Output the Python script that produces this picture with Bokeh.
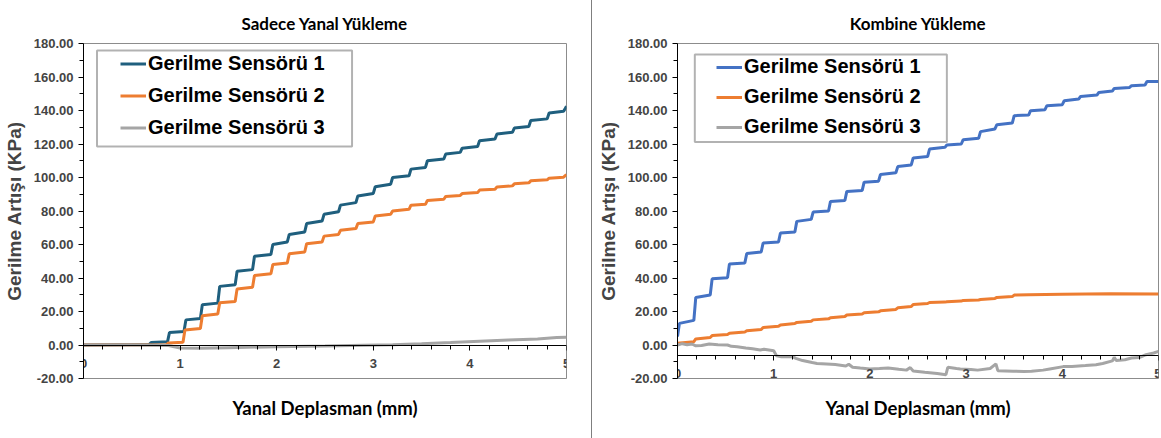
from bokeh.plotting import figure
from bokeh.models import (Legend, LegendItem, NumeralTickFormatter, FixedTicker,
                          Title, BoxAnnotation)
from bokeh.layouts import row
from bokeh.embed import file_html
from bokeh.resources import INLINE

# ---------------- data ----------------
SERIES_NAMES = ["Gerilme Sensörü 1", "Gerilme Sensörü 2", "Gerilme Sensörü 3"]
X_TICKS = [0, 1, 2, 3, 4, 5]
X_MINOR = [0.2, 0.4, 0.6, 0.8, 1.2, 1.4, 1.6, 1.8, 2.2, 2.4, 2.6, 2.8,
           3.2, 3.4, 3.6, 3.8, 4.2, 4.4, 4.6, 4.8]
Y_TICKS = [-20, 0, 20, 40, 60, 80, 100, 120, 140, 160, 180]
Y_MINOR = [-10, 10, 30, 50, 70, 90, 110, 130, 150, 170]

# Sadece Yanal Yükleme
L1_x = [0, 0.68, 0.70, 0.87, 0.89, 1.04, 1.06, 1.21, 1.23, 1.39, 1.41, 1.57, 1.59,
        1.75, 1.77, 1.94, 1.96, 2.11, 2.13, 2.29, 2.31, 2.47, 2.49, 2.64, 2.66,
        2.82, 2.84, 3.00, 3.02, 3.18, 3.20, 3.37, 3.39, 3.54, 3.56, 3.73, 3.75,
        3.90, 3.92, 4.08, 4.10, 4.26, 4.28, 4.44, 4.46, 4.61, 4.63, 4.80, 4.82,
        4.97, 4.99, 5.0]
L1_y = [0, 0.3, 1.5, 2.0, 7.5, 8.0, 15, 15.8, 24, 25, 35, 36, 44,
        45, 53, 54, 60, 61.5, 66, 67.5, 72.5, 74, 78, 79.5, 83.5,
        85, 89, 90.5, 94.5, 96, 100, 101, 105, 106, 110, 111, 114,
        115, 117.5, 118.5, 122, 123, 126, 127, 129.5, 130.5, 134, 135, 138.5,
        139.5, 141.5, 142.5]
L2_x = [0, 0.86, 0.88, 1.03, 1.05, 1.21, 1.23, 1.39, 1.41, 1.57, 1.59, 1.75, 1.77,
        1.94, 1.96, 2.11, 2.13, 2.29, 2.31, 2.47, 2.49, 2.64, 2.66, 2.82, 2.84,
        3.00, 3.02, 3.18, 3.20, 3.37, 3.39, 3.54, 3.56, 3.73, 3.75, 3.90, 3.92,
        4.08, 4.10, 4.26, 4.28, 4.44, 4.46, 4.61, 4.63, 4.80, 4.82, 4.97, 4.99, 5.0]
L2_y = [0, 0.2, 1.2, 1.6, 9, 9.8, 17.5, 18.5, 25.2, 26, 33.5, 34.5, 41.5,
        42.5, 48, 49, 54.5, 55.5, 60.5, 61.5, 65, 66, 68.5, 69.5, 72.5,
        73.5, 77, 78, 80, 81, 83.5, 84, 86.3, 87, 88.7, 89.3, 90.4,
        91, 92.5, 93, 94.3, 95, 96.2, 96.8, 98, 98.6, 99.6, 100.2, 101.2, 101.8]
L3_x = [0, 0.5, 0.88, 1.0, 1.2, 1.5, 2.0, 2.5, 2.9, 3.2, 3.5, 3.8, 4.1, 4.4, 4.7, 4.9, 5.0]
L3_y = [0, 0, -0.3, -1.8, -2.0, -1.6, -1.0, -0.6, -0.1, 0.2, 0.8, 1.5, 2.3, 3.0, 3.6, 4.5, 4.6]

# Kombine Yükleme
R1_x = [0, 0.02, 0.17, 0.19, 0.34, 0.36, 0.52, 0.54, 0.70, 0.72, 0.87, 0.89, 1.05,
        1.07, 1.22, 1.24, 1.39, 1.41, 1.57, 1.59, 1.74, 1.76, 1.92, 1.94, 2.09,
        2.11, 2.27, 2.29, 2.43, 2.45, 2.60, 2.62, 2.78, 2.80, 2.95, 2.97, 3.13,
        3.15, 3.30, 3.32, 3.48, 3.50, 3.65, 3.67, 3.82, 3.84, 4.00, 4.02, 4.17,
        4.19, 4.36, 4.38, 4.52, 4.54, 4.70, 4.72, 4.86, 4.88, 5.0]
R1_y = [5, 12.9, 14.7, 28.4, 29.8, 39.5, 40.2, 48.4, 49, 54.6, 55.5, 60.9, 61.5,
        66.9, 67.5, 73.8, 75, 79.4, 80, 85.7, 86.3, 91.7, 92.3, 97.2, 97.8,
        101.8, 102.8, 106.5, 107.5, 111.7, 112.5, 117, 118, 119.4, 120, 122.6, 123.4,
        127.4, 129, 131.5, 132.5, 136.9, 137.3, 139.9, 140.5, 142.9, 143.5, 145.8, 146.8,
        148.4, 149.2, 150.8, 151.6, 153.2, 153.8, 154.8, 155.2, 157.3, 157.3]
R2_x = [0, 0.17, 0.19, 0.34, 0.36, 0.52, 0.54, 0.70, 0.72, 0.87, 0.89, 1.05, 1.07,
        1.22, 1.24, 1.39, 1.41, 1.57, 1.59, 1.74, 1.76, 1.92, 1.94, 2.09, 2.11,
        2.27, 2.29, 2.43, 2.45, 2.60, 2.62, 2.78, 2.80, 2.95, 2.97, 3.13, 3.15,
        3.30, 3.32, 3.48, 3.50, 3.65, 4.0, 4.5, 5.0]
R2_y = [1.0, 2.0, 3.6, 4.5, 5.6, 6.3, 7.0, 7.8, 8.5, 9.3, 10.5, 11.2, 12.0,
        12.8, 13.5, 14.2, 15.0, 15.6, 16.3, 17.0, 17.9, 18.5, 19.2, 19.8, 20.4,
        21.2, 22.2, 23.0, 24.2, 24.8, 25.4, 25.6, 25.8, 26.2, 26.6, 26.9, 27.2,
        27.8, 28.4, 28.9, 29.8, 30.0, 30.3, 30.6, 30.5]
R3_x = [0, 0.05, 0.1, 0.15, 0.19, 0.25, 0.33, 0.42, 0.52, 0.56, 0.62, 0.71, 0.78,
        0.86, 0.9, 1.0, 1.03, 1.08, 1.2, 1.23, 1.3, 1.4, 1.45, 1.55, 1.64, 1.75,
        1.78, 1.82, 1.9, 2.0, 2.1, 2.19, 2.3, 2.38, 2.42, 2.45, 2.57, 2.7, 2.79,
        2.81, 2.9, 2.94, 3.05, 3.12, 3.25, 3.31, 3.33, 3.49, 3.6, 3.68, 3.8, 3.87,
        4.01, 4.1, 4.24, 4.35, 4.42, 4.52, 4.54, 4.56, 4.65, 4.72, 4.8, 4.87, 4.95, 5.0]
R3_y = [0, 0.8, 0.2, 0.6, -0.5, -0.3, 0.6, 0.2, 0, -0.8, -1, -1.8, -2.3,
        -3, -2.5, -3.4, -6.5, -7, -7, -8, -9.3, -10.5, -11, -11.3, -11.7, -12.5,
        -11.5, -13.3, -13.8, -14.3, -14, -13.7, -14.5, -15, -13.5, -15.5, -16.3, -17, -17.7,
        -13.3, -14, -14.3, -14.6, -15, -14, -11.3, -15.3, -15.7, -15.8, -15.7, -15, -14.3,
        -12.9, -12.8, -12.3, -11.8, -11, -9.5, -7.4, -9.3, -8.8, -7.8, -7.5, -5.8, -4.8, -3.8]

LEFT_COLORS = ["#1f5f7e", "#ed7d31", "#a5a5a5"]
RIGHT_COLORS = ["#4472c4", "#ed7d31", "#a5a5a5"]

BOLD_SANS = "Liberation Sans"
TITLE_FONT = "Lato"


def panel(title, series, colors, width, border_left, border_right, axis_at,
          box, legend_loc, legend_spacing, legend_h, text_offset):
    p = figure(width=width, height=438, x_range=(0, 5), y_range=(-20, 180),
               output_backend="svg", toolbar_location=None,
               min_border_left=border_left, min_border_right=border_right,
               min_border_top=41, min_border_bottom=60)
    p.grid.visible = False
    p.outline_line_color = "#8c8c8c"
    p.outline_line_width = 1

    p.title.text = title
    p.title.align = "center"
    p.title.offset = text_offset
    p.title.text_font = TITLE_FONT
    p.title.text_font_style = "bold"
    p.title.text_font_size = "17px"
    p.title.text_color = "#000000"
    p.title.standoff = 20

    xa = p.xaxis[0]
    xa.ticker = FixedTicker(ticks=X_TICKS, minor_ticks=X_MINOR)
    xa.fixed_location = axis_at
    xa.axis_line_color = "#000000"
    xa.major_tick_out = 5
    xa.major_tick_in = 0
    xa.minor_tick_out = 4
    xa.minor_tick_in = 0
    xa.major_label_text_font = BOLD_SANS
    xa.major_label_text_font_style = "bold"
    xa.major_label_text_font_size = "13px"
    xa.major_label_standoff = 9

    ya = p.yaxis[0]
    ya.ticker = FixedTicker(ticks=Y_TICKS, minor_ticks=Y_MINOR)
    ya.formatter = NumeralTickFormatter(format="0.00")
    ya.axis_line_color = "#000000"
    ya.major_tick_out = 5
    ya.major_tick_in = 0
    ya.minor_tick_out = 4
    ya.minor_tick_in = 0
    ya.major_label_text_font = BOLD_SANS
    ya.major_label_text_font_style = "bold"
    ya.major_label_text_font_size = "13px"
    ya.major_label_standoff = 5
    ya.axis_label = "Gerilme Artışı (KPa)"
    ya.axis_label_text_font = BOLD_SANS
    ya.axis_label_text_font_style = "bold"
    ya.axis_label_text_font_size = "19px"
    ya.axis_label_standoff = 6

    p.add_layout(Title(text="Yanal Deplasman (mm)", align="center",
                       offset=text_offset,
                       text_font=TITLE_FONT, text_font_style="bold",
                       text_font_size="18.5px", text_color="#000000",
                       standoff=32), "below")

    renderers = []
    for (xs, ys), c in zip(series, colors):
        r = p.line(xs, ys, line_color=c, line_width=3)
        renderers.append(r)

    p.add_layout(BoxAnnotation(left=box[0], right=box[1], bottom=box[2], top=box[3],
                               fill_color="white", fill_alpha=1.0,
                               line_color="black", line_width=2))

    legend = Legend(items=[LegendItem(label=n, renderers=[r])
                           for n, r in zip(SERIES_NAMES, renderers)],
                    location=legend_loc, padding=0, margin=0,
                    spacing=legend_spacing, glyph_width=26, glyph_height=legend_h,
                    label_height=legend_h, label_standoff=2,
                    label_text_font=BOLD_SANS, label_text_font_style="bold",
                    label_text_font_size="20px", label_text_color="#000000",
                    border_line_alpha=0, background_fill_alpha=0)
    p.add_layout(legend, "center")
    return p


p1 = panel("Sadece Yanal Yükleme",
           [(L1_x, L1_y), (L2_x, L2_y), (L3_x, L3_y)], LEFT_COLORS,
           width=591, border_left=83, border_right=25, axis_at=0,
           box=(0.14, 2.78, 118.5, 175.8), legend_loc=(37, 239),
           legend_spacing=9, legend_h=23, text_offset=0)
p2 = panel("Kombine Yükleme",
           [(R1_x, R1_y), (R2_x, R2_y), (R3_x, R3_y)], RIGHT_COLORS,
           width=570, border_left=85, border_right=4, axis_at=-6,
           box=(0.18, 2.80, 121.2, 173.5), legend_loc=(39, 240),
           legend_spacing=7, legend_h=22, text_offset=-11)
p2.styles = {"border-left": "1px solid #7f7f7f"}

layout = row(p1, p2, spacing=0)

open("out.html", "w").write(file_html(layout, INLINE))
